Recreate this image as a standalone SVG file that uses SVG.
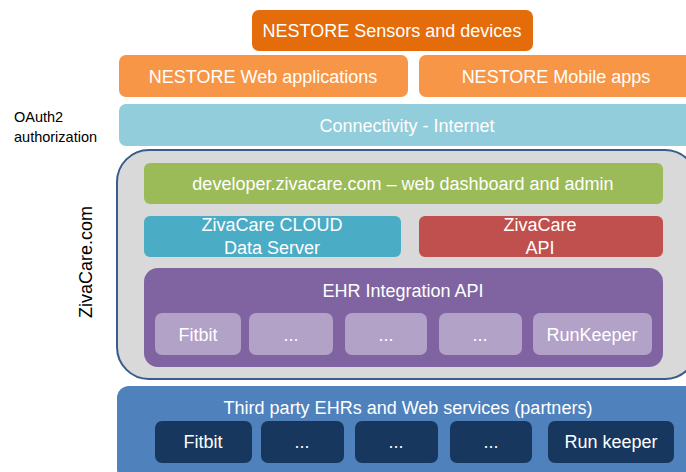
<svg xmlns="http://www.w3.org/2000/svg" width="686" height="472" viewBox="0 0 686 472">
<style>
text{font-family:"Liberation Sans","Noto Sans",Arial,sans-serif;fill:#fff;text-anchor:middle}
.t{font-size:18px}
.s{font-size:18px}
.lbl{fill:#000;text-anchor:start;font-size:14.5px}
</style>
<rect width="686" height="472" fill="#fff"/>
<g id="sensors"><rect x="252" y="10" width="281" height="41" rx="7" fill="#e46c0a"/><text class="t" x="392" y="37">NESTORE Sensors and devices</text></g>
<g id="webapps"><rect x="119" y="55" width="289" height="42" rx="7" fill="#f79646"/><text class="t" x="263" y="83">NESTORE Web applications</text></g>
<g id="mobileapps"><rect x="419" y="55" width="280" height="42" rx="7" fill="#f79646"/><text class="t" x="556" y="83">NESTORE Mobile apps</text></g>
<g id="connectivity"><rect x="119" y="104" width="580" height="42" rx="7" fill="#92cddc"/><text class="t" x="407" y="132">Connectivity - Internet</text></g>
<g id="oauth"><text class="lbl" x="14" y="122">OAuth2</text><text class="lbl" x="14" y="142">authorization</text></g>
<g id="zivacare"><rect x="117" y="150" width="580" height="229" rx="32" fill="#d9d9d9" stroke="#385d8a" stroke-width="2"/>
<text x="92" y="262" transform="rotate(-90 92 262)" style="fill:#000;font-size:18px">ZivaCare.com</text></g>
<g id="developer"><rect x="144" y="163" width="519" height="41" rx="6" fill="#9bbb59"/><text class="s" x="403" y="190">developer.zivacare.com – web dashboard and admin</text></g>
<g id="cloud"><rect x="144" y="216" width="257" height="41" rx="6" fill="#4bacc6"/><text class="s" x="272" y="231">ZivaCare CLOUD</text><text class="s" x="272" y="254">Data Server</text></g>
<g id="api"><rect x="419" y="216" width="244" height="41" rx="6" fill="#c0504d"/><text class="s" x="540" y="231">ZivaCare</text><text class="s" x="540" y="254">API</text></g>
<g id="ehr"><rect x="144" y="268" width="519" height="99" rx="14" fill="#8064a2"/><text class="s" x="403" y="297">EHR Integration API</text></g>
<g id="ehr-fitbit"><rect x="155" y="313" width="86" height="42" rx="7" fill="#b3a2c7"/><text class="s" x="198" y="341">Fitbit</text></g>
<g id="ehr-dots1"><rect x="249" y="313" width="84" height="42" rx="7" fill="#b3a2c7"/><text class="s" x="291" y="341">...</text></g>
<g id="ehr-dots2"><rect x="345" y="313" width="82" height="42" rx="7" fill="#b3a2c7"/><text class="s" x="386" y="341">...</text></g>
<g id="ehr-dots3"><rect x="439" y="313" width="83" height="42" rx="7" fill="#b3a2c7"/><text class="s" x="480" y="341">...</text></g>
<g id="ehr-runkeeper"><rect x="533" y="313" width="119" height="42" rx="7" fill="#b3a2c7"/><text class="s" x="592" y="341">RunKeeper</text></g>
<g id="thirdparty"><rect x="117" y="386" width="580" height="95" rx="12" fill="#4f81bd"/><text class="s" x="408" y="414">Third party EHRs and Web services (partners)</text></g>
<g id="tp-fitbit"><rect x="155" y="421" width="97" height="42" rx="7" fill="#17375e"/><text class="s" x="203" y="448">Fitbit</text></g>
<g id="tp-dots1"><rect x="261" y="421" width="83" height="42" rx="7" fill="#17375e"/><text class="s" x="302" y="448">...</text></g>
<g id="tp-dots2"><rect x="355" y="421" width="83" height="42" rx="7" fill="#17375e"/><text class="s" x="396" y="448">...</text></g>
<g id="tp-dots3"><rect x="450" y="421" width="82" height="42" rx="7" fill="#17375e"/><text class="s" x="491" y="448">...</text></g>
<g id="tp-runkeeper"><rect x="548" y="421" width="126" height="42" rx="7" fill="#17375e"/><text class="s" x="611" y="448">Run keeper</text></g>
<g id="connectors"></g>
</svg>
